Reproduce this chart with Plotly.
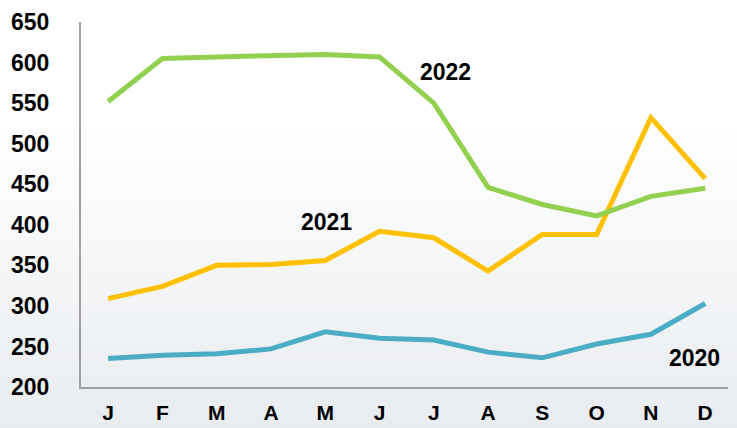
import plotly.graph_objects as go

months = ["J", "F", "M", "A", "M", "J", "J", "A", "S", "O", "N", "D"]
y2022 = [552, 605, 607, 608, 610, 607, 550, 446, 425, 411, 435, 445]
y2021 = [309, 324, 350, 351, 356, 392, 384, 343, 388, 388, 532, 457]
y2020 = [235, 239, 241, 247, 268, 260, 258, 243, 236, 253, 265, 303]
y_ticks = [200, 250, 300, 350, 400, 450, 500, 550, 600, 650]

FONT = "Liberation Sans Narrow, Arial Narrow, Liberation Sans, Arial, sans-serif"
x_idx = list(range(len(months)))

fig = go.Figure()
for vals, color, name in [(y2020, "#4BACC6", "2020"), (y2021, "#FFC000", "2021"), (y2022, "#92D050", "2022")]:
    fig.add_trace(go.Scatter(x=x_idx, y=vals, mode="lines", name=name,
                             line=dict(color=color, width=5), hoverinfo="skip"))

# background gradient strips
shapes = []
n = 40
for i in range(n):
    t = i / (n - 1)
    f = 0.0 if t < 0.3 else (t - 0.3) / 0.7
    r = int(255 - f * 24)
    g = int(255 - f * 20)
    b = int(255 - f * 16)
    shapes.append(dict(type="rect", xref="paper", yref="paper", layer="below",
                       x0=-0.2, x1=1.1, y0=1.1 - (i + 1) * 1.3 / n, y1=1.1 - i * 1.3 / n + 0.002,
                       fillcolor=f"rgb({r},{g},{b})", line=dict(width=0)))

fig.add_annotation(x=6.22, y=588, text="<b>2022</b>", showarrow=False,
                   font=dict(family=FONT, size=23, color="#000"))
fig.add_annotation(x=4.02, y=404, text="<b>2021</b>", showarrow=False,
                   font=dict(family=FONT, size=23, color="#000"))
fig.add_annotation(x=10.8, y=236, text="<b>2020</b>", showarrow=False,
                   font=dict(family=FONT, size=23, color="#000"))

fig.update_layout(
    width=737, height=428,
    margin=dict(l=81, r=9, t=22, b=41),
    paper_bgcolor="white", plot_bgcolor="rgba(0,0,0,0)",
    showlegend=False,
    shapes=shapes,
    xaxis=dict(range=[-0.5, 11.42], tickmode="array", tickvals=x_idx,
               ticktext=[f"<b>{m}</b>" for m in months], automargin=False,
               showgrid=False, zeroline=False, showline=True, linecolor="#a0a0a0", linewidth=2,
               ticks="outside", ticklen=6, tickcolor="rgba(0,0,0,0)",
               tickfont=dict(family=FONT, size=21, color="#000")),
    yaxis=dict(range=[200, 650], tickmode="array", tickvals=y_ticks, automargin=False,
               ticktext=[f"<b>{v}</b>" for v in y_ticks],
               showgrid=False, zeroline=False, showline=True, linecolor="#a0a0a0", linewidth=2,
               ticks="outside", ticklen=25, tickcolor="rgba(0,0,0,0)",
               tickfont=dict(family=FONT, size=23, color="#000")),
)

fig.write_html("out.html", config={"displayModeBar": False},
               post_script="document.body.style.margin='0';document.body.style.overflow='hidden';")
